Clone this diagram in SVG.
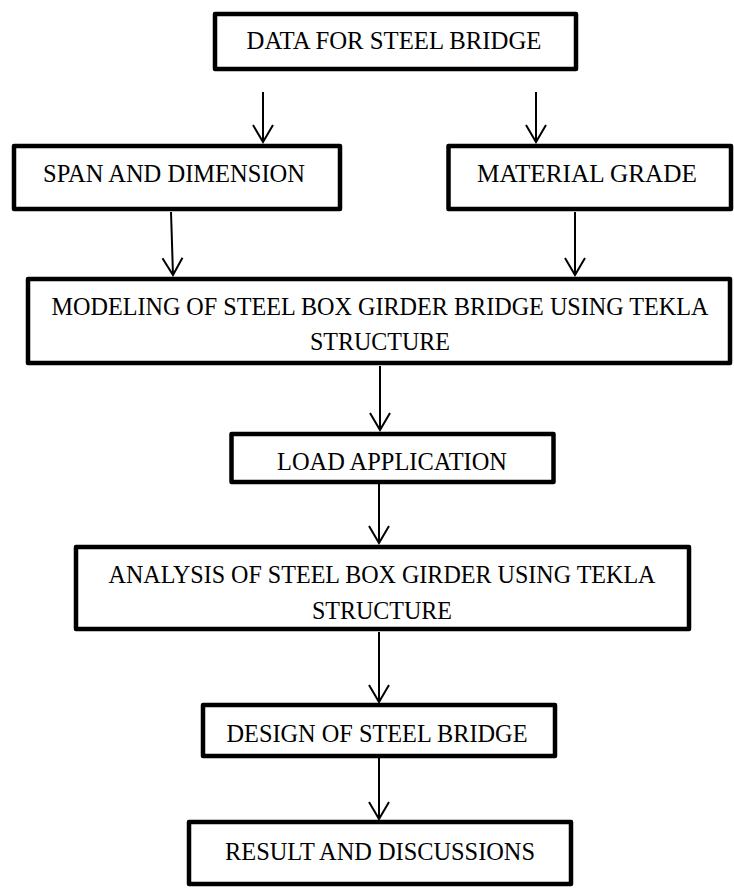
<svg xmlns="http://www.w3.org/2000/svg" width="734" height="888" viewBox="0 0 734 888">
<style>
.box{fill:#fff;stroke:#000;stroke-width:4.5;stroke-linejoin:round}
.lbl{font-family:"Liberation Serif","Times New Roman",serif;font-size:25px;fill:#000;text-anchor:middle}
.conn{stroke:#000;stroke-width:2;fill:none;marker-end:url(#arr)}
</style>
<defs>
<marker id="arr" viewBox="0 0 20 20" refX="17" refY="10" markerWidth="20" markerHeight="20" markerUnits="userSpaceOnUse" orient="auto" overflow="visible">
<path d="M0,0 L17,10 L0,20" fill="none" stroke="#000" stroke-width="2"/>
</marker>
</defs>
<rect width="734" height="888" fill="#fff"/>
<g id="connectors">
<line class="conn" x1="263" y1="92" x2="263" y2="142"/>
<line class="conn" x1="536" y1="92" x2="536" y2="142"/>
<line class="conn" x1="171" y1="212" x2="173" y2="275"/>
<line class="conn" x1="575" y1="212" x2="575" y2="275"/>
<line class="conn" x1="380" y1="366" x2="380" y2="430"/>
<line class="conn" x1="379" y1="484" x2="379" y2="543"/>
<line class="conn" x1="379" y1="632" x2="379" y2="702"/>
<line class="conn" x1="379" y1="758" x2="379" y2="819"/>
</g>
<g id="n1">
<rect class="box" x="215" y="14" width="361" height="55"/>
<text class="lbl" x="394" y="49" textLength="295" lengthAdjust="spacingAndGlyphs">DATA FOR STEEL BRIDGE</text>
</g>
<g id="n2">
<rect class="box" x="14" y="146" width="326" height="63"/>
<text class="lbl" x="174" y="182" textLength="262" lengthAdjust="spacingAndGlyphs">SPAN AND DIMENSION</text>
</g>
<g id="n3">
<rect class="box" x="448.5" y="146" width="282.5" height="63"/>
<text class="lbl" x="587" y="182" textLength="220" lengthAdjust="spacingAndGlyphs">MATERIAL GRADE</text>
</g>
<g id="n4">
<rect class="box" x="28" y="279" width="702" height="84"/>
<text class="lbl" x="380" y="315" textLength="657" lengthAdjust="spacingAndGlyphs">MODELING OF STEEL BOX GIRDER BRIDGE USING TEKLA</text>
<text class="lbl" x="380" y="350" textLength="140" lengthAdjust="spacingAndGlyphs">STRUCTURE</text>
</g>
<g id="n5">
<rect class="box" x="231.5" y="434" width="322" height="48"/>
<text class="lbl" x="392" y="470" textLength="230" lengthAdjust="spacingAndGlyphs">LOAD APPLICATION</text>
</g>
<g id="n6">
<rect class="box" x="76" y="547" width="613" height="82"/>
<text class="lbl" x="382" y="583" textLength="547" lengthAdjust="spacingAndGlyphs">ANALYSIS OF STEEL BOX GIRDER USING TEKLA</text>
<text class="lbl" x="382" y="619" textLength="140" lengthAdjust="spacingAndGlyphs">STRUCTURE</text>
</g>
<g id="n7">
<rect class="box" x="203" y="705" width="352" height="51"/>
<text class="lbl" x="377" y="742" textLength="301" lengthAdjust="spacingAndGlyphs">DESIGN OF STEEL BRIDGE</text>
</g>
<g id="n8">
<rect class="box" x="189" y="822" width="382" height="62"/>
<text class="lbl" x="380" y="860" textLength="310" lengthAdjust="spacingAndGlyphs">RESULT AND DISCUSSIONS</text>
</g>
</svg>
